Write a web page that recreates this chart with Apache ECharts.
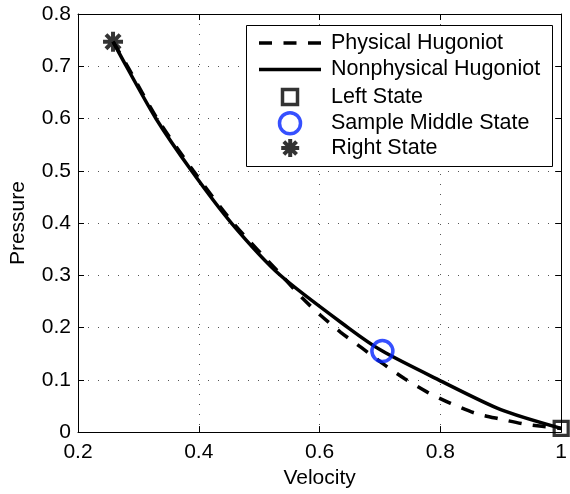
<!DOCTYPE html>
<html>
<head>
<meta charset="utf-8">
<script src="https://cdn.jsdelivr.net/npm/echarts@6/dist/echarts.min.js"></script>
<style>
  html, body { margin: 0; padding: 0; background: #ffffff; }
  #chart { width: 570px; height: 494px; }
</style>
</head>
<body>
<div id="chart"></div>
<script>
// Hugoniot loci in the velocity–pressure plane
const velocityPhysical = [0.258, 0.282, 0.331, 0.391, 0.457, 0.537, 0.571, 0.602, 0.635, 0.670, 0.706, 0.741, 0.779, 0.817, 0.858, 0.899, 0.941, 1.000];
const pressurePhysical = [0.747, 0.700, 0.600, 0.500, 0.400, 0.300, 0.257, 0.223, 0.191, 0.161, 0.130, 0.102, 0.076, 0.055, 0.036, 0.025, 0.015, 0.007];

const velocityNonphysical = [0.258, 0.280, 0.329, 0.388, 0.454, 0.535, 0.647, 0.704, 0.797, 0.900, 1.000];
const pressureNonphysical = [0.747, 0.700, 0.600, 0.500, 0.400, 0.300, 0.200, 0.155, 0.100, 0.043, 0.007];

// States: [velocity, pressure]
const leftState = [1.000, 0.007];
const middleState = [0.704, 0.155];
const rightState = [0.258, 0.747];

const seriesNames = ['Physical Hugoniot', 'Nonphysical Hugoniot', 'Left State', 'Sample Middle State', 'Right State'];

const xTicks = [0.2, 0.4, 0.6, 0.8, 1.0];
const xTickLabels = ['0.2', '0.4', '0.6', '0.8', '1'];
const yTicks = [0, 0.1, 0.2, 0.3, 0.4, 0.5, 0.6, 0.7, 0.8];
const yTickLabels = ['0', '0.1', '0.2', '0.3', '0.4', '0.5', '0.6', '0.7', '0.8'];

const FONT = "'Liberation Sans', Arial, Helvetica, sans-serif";
const BLUE = '#0424ff';

function zip(xs, ys) { return xs.map((x, i) => [x, ys[i]]); }
function tickLabel(ticks, labels) {
  return function (v) {
    const i = ticks.findIndex(t => Math.abs(t - v) < 1e-9);
    return i >= 0 ? labels[i] : '';
  };
}

// Marker and legend glyph paths
const starPath = 'path://M10,0V20M0,10H20M2.93,2.93L17.07,17.07M2.93,17.07L17.07,2.93';
const squarePath = 'path://M0,0H15V15H0Z';
const dashedIcon = 'path://M0,0H13V3.5H0Z M24.5,0H37.5V3.5H24.5Z M49,0H62V3.5H49Z';
const solidIcon = 'path://M0,0H62V3.5H0Z';

const chart = echarts.init(document.getElementById('chart'), null, { renderer: 'canvas' });

const frameAxisLine = { show: true, onZero: false, lineStyle: { color: '#000', width: 1 } };
const frameTick = { show: true, inside: true, length: 6, lineStyle: { color: '#000', width: 1 } };
const dotted = { show: true, lineStyle: { color: '#555', width: 1, type: [1, 9] } };

const legendText = { fontFamily: FONT, fontSize: 21.5, color: '#000', padding: [0, 0, 0, 5] };
function legendEntry(name, icon, left, top, itemHeight, itemStyle) {
  return {
    show: true, orient: 'vertical', left: left, top: top,
    padding: 0, itemWidth: 62, itemHeight: itemHeight, symbolKeepAspect: true,
    selectedMode: false, data: [{ name: name, icon: icon }],
    textStyle: legendText, itemStyle: itemStyle, z: 6
  };
}
const lineIconStyle = { color: '#000', borderWidth: 0 };

chart.setOption({
  animation: false,
  backgroundColor: '#ffffff',
  grid: { left: 78, right: 7, top: 14, bottom: 57, containLabel: false },
  xAxis: [
    {
      type: 'value', min: 0.2, max: 1, interval: 0.2, position: 'bottom',
      axisLine: frameAxisLine, axisTick: frameTick, splitLine: dotted,
      axisLabel: { margin: 10, color: '#000', fontSize: 21, fontFamily: FONT, formatter: tickLabel(xTicks, xTickLabels) },
      name: 'Velocity', nameLocation: 'middle', nameGap: 33,
      nameTextStyle: { color: '#000', fontSize: 21, fontFamily: FONT }
    },
    {
      type: 'value', min: 0.2, max: 1, interval: 0.2, position: 'top',
      axisLine: frameAxisLine, axisTick: frameTick, splitLine: { show: false },
      axisLabel: { show: false }
    }
  ],
  yAxis: [
    {
      type: 'value', min: 0, max: 0.8, interval: 0.1, position: 'left',
      axisLine: frameAxisLine, axisTick: frameTick, splitLine: dotted,
      axisLabel: { margin: 7, color: '#000', fontSize: 21, fontFamily: FONT, formatter: tickLabel(yTicks, yTickLabels) },
      name: 'Pressure', nameLocation: 'middle', nameGap: 49, nameRotate: 90,
      nameTextStyle: { color: '#000', fontSize: 21, fontFamily: FONT }
    },
    {
      type: 'value', min: 0, max: 0.8, interval: 0.1, position: 'right',
      axisLine: frameAxisLine, axisTick: frameTick, splitLine: { show: false },
      axisLabel: { show: false }
    }
  ],
  graphic: [{
    type: 'rect', z: 5,
    shape: { x: 246.5, y: 25.5, width: 306, height: 141 },
    style: { fill: '#ffffff', stroke: '#000', lineWidth: 1 }
  }],
  legend: [
    legendEntry(seriesNames[0], dashedIcon, 259, 32, 14, lineIconStyle),
    legendEntry(seriesNames[1], solidIcon, 259, 58.5, 14, lineIconStyle),
    legendEntry(seriesNames[2], squarePath, 280.75, 86, 15,
      { color: 'rgba(0,0,0,0)', borderColor: '#000', borderWidth: 3.5 }),
    legendEntry(seriesNames[3], 'circle', 277.75, 111, 21,
      { color: 'rgba(0,0,0,0)', borderColor: BLUE, borderWidth: 3.5 }),
    legendEntry(seriesNames[4], starPath, 279.2, 137, 18,
      { color: 'rgba(0,0,0,0)', borderColor: '#000', borderWidth: 4 })
  ],
  series: [
    {
      name: seriesNames[0], type: 'line', data: zip(velocityPhysical, pressurePhysical),
      smooth: 0.25, symbol: 'none', showSymbol: false, clip: false, z: 2,
      lineStyle: { color: '#000', width: 3.5, type: [13, 11.5], cap: 'butt' },
      itemStyle: { color: '#000' }
    },
    {
      name: seriesNames[1], type: 'line', data: zip(velocityNonphysical, pressureNonphysical),
      smooth: 0.25, symbol: 'none', showSymbol: false, clip: false, z: 3,
      lineStyle: { color: '#000', width: 3.5, type: 'solid' },
      itemStyle: { color: '#000' }
    },
    {
      name: seriesNames[2], type: 'scatter', data: [leftState], clip: false, z: 4,
      symbol: 'rect', symbolSize: 14,
      itemStyle: { color: 'rgba(0,0,0,0)', borderColor: '#000', borderWidth: 3.2 }
    },
    {
      name: seriesNames[3], type: 'scatter', data: [middleState], clip: false, z: 4,
      symbol: 'circle', symbolSize: 21,
      itemStyle: { color: 'rgba(0,0,0,0)', borderColor: BLUE, borderWidth: 3.5 }
    },
    {
      name: seriesNames[4], type: 'scatter', data: [rightState], clip: false, z: 4,
      symbol: starPath, symbolSize: 20,
      itemStyle: { color: 'rgba(0,0,0,0)', borderColor: '#000', borderWidth: 4 }
    }
  ]
});
</script>
</body>
</html>
